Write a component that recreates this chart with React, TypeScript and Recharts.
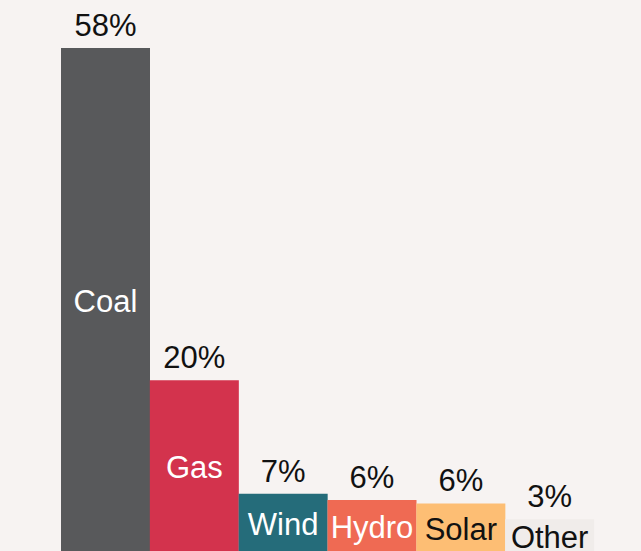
import { BarChart, Bar, Cell, XAxis, YAxis, LabelList } from "recharts";

const sources = ["Coal", "Gas", "Wind", "Hydro", "Solar", "Other"];
const shares = [58, 20, 7, 6.3, 5.9, 4.1]; // bar heights
const shareLabels = ["58%", "20%", "7%", "6%", "6%", "3%"];

const FILLS = ["#58595B", "#D3334D", "#256C7A", "#EF6A53", "#FDBE74", "#F0ECEA"];
const NAME_COLORS = ["#FFFFFF", "#FFFFFF", "#FFFFFF", "#FFFFFF", "#111111", "#111111"];

const data = sources.map((name, i) => ({
  name,
  value: shares[i],
  label: shareLabels[i],
}));

const FONT = "'Liberation Sans', Arial, sans-serif";

const NameLabel = (props: any) => {
  const { x, y, width, height, index } = props;
  const cx = x + width / 2;
  const cy = y + height / 2;
  return (
    <text
      x={cx}
      y={cy}
      textAnchor="middle"
      dominantBaseline="central"
      fill={NAME_COLORS[index]}
      fontSize={31}
      fontFamily={FONT}
    >
      {sources[index]}
    </text>
  );
};

const App = () => {
  return (
    <div
      style={{
        position: "fixed",
        left: 0,
        top: 0,
        width: 641,
        height: 551,
        overflow: "hidden",
        background: "#F7F3F2",
      }}
    >
      <BarChart
        width={641}
        height={555}
        data={data}
        margin={{ top: 48, right: 47, bottom: 0, left: 61 }}
        barCategoryGap={0}
      >
        <XAxis dataKey="name" hide />
        <YAxis hide domain={[0, 58]} />
        <Bar dataKey="value" isAnimationActive={false}>
          {data.map((entry, index) => (
            <Cell key={`cell-${index}`} fill={FILLS[index]} />
          ))}
          <LabelList
            dataKey="label"
            position="top"
            offset={12}
            fill="#111111"
            fontSize={31}
            fontFamily={FONT}
          />
          <LabelList dataKey="name" content={NameLabel} />
        </Bar>
      </BarChart>
    </div>
  );
};

export default App;
